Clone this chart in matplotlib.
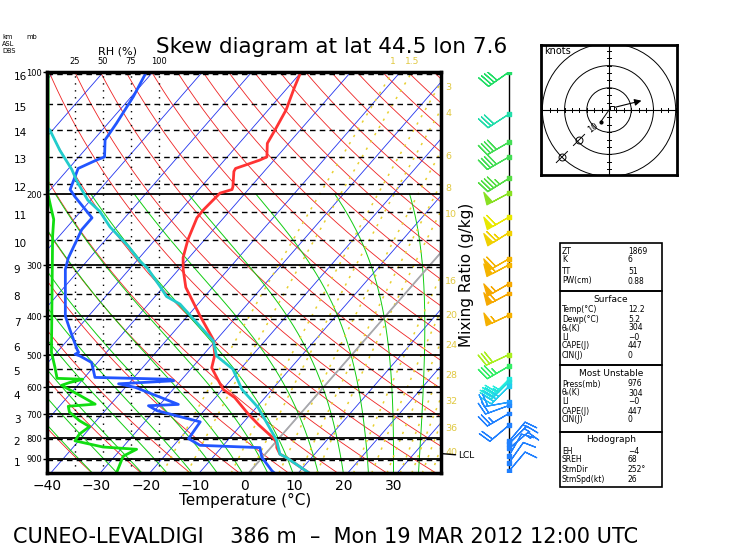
import numpy as np
import matplotlib
matplotlib.use("Agg")
import matplotlib.pyplot as plt
from matplotlib.patches import Rectangle, Circle
from matplotlib.ticker import NullLocator, NullFormatter

# ---- sounding data (pressure mb / temperature C) ----
temp_p = [100, 109, 124, 139, 150, 162, 165, 173, 176, 192, 195, 199, 219, 229, 259, 287, 307,
          340, 399, 457, 498, 537, 607, 636, 699, 741, 799, 821, 845, 877, 894, 954, 976]
temp_t = [-60.1, -58.7, -56.4, -55.1, -54.3, -52.0, -52.9, -56.3, -56.1, -53.6, -53.3, -55.1,
          -55.5, -55.4, -53.4, -51.2, -49.1, -45.4, -37.6, -30.7, -27.7, -26.0, -19.9, -16.1,
          -10.4, -6.6, -1.3, 0.3, 1.2, 3.0, 4.9, 10.3, 12.2]

dewp_p = [100, 115, 134, 147, 162, 165, 173, 195, 203, 229, 245, 288, 307, 400, 432, 483, 492,
          497, 502, 521, 567, 573, 578, 588, 600, 661, 666, 685, 730, 803, 834, 845, 893, 964, 976]
dewp_t = [-91.3, -89.6, -88.3, -87.7, -84.8, -85.9, -88.1, -86.0, -83.8, -76.6, -76.6, -74.3,
          -72.9, -64.7, -61.4, -56.5, -55.6, -56.0, -54.7, -51.2, -47.9, -32.4, -31.4, -42.0,
          -38.0, -26.3, -32.1, -29.5, -18.8, -18.2, -14.7, -2.2, -0.1, 4.3, 5.2]

parc_p = [976, 954, 894, 877, 809, 672, 607, 541, 502, 461, 374, 358, 338, 304, 293, 269, 241,
          221, 207, 186, 174, 156, 139, 137]
parc_t = [12.2, 10.3, 4.9, 3.0, -0.2, -9.7, -16.1, -21.5, -27.1, -30.4, -43.6, -47.7, -50.8,
          -56.7, -59.3, -64.3, -71.4, -76.1, -80.6, -86.1, -89.2, -95.0, -100.6, -101.7]

rh_p = [100, 201, 219, 231, 254, 482, 492, 534, 570, 573, 584, 593, 625, 660, 668, 690, 725,
        750, 782, 813, 842, 853, 887, 931, 976]
rh_v = [1, 1, 4, 6, 5, 4, 4, 7, 9, 32, 20, 13, 28, 43, 19, 20, 29, 38, 29, 25, 50, 80, 68, 65, 62]

km_levels = list(range(1, 17))
km_p = [906, 804, 707, 617, 540, 470, 408, 352, 302, 260, 222, 189, 162, 139, 120, 101]
mb_levels = [100, 200, 300, 400, 500, 600, 700, 800, 900]

wind_p = [100, 127, 149, 162, 183, 199, 228, 249, 289, 299, 333, 352, 398, 498, 532, 573, 581,
          596, 653, 665, 696, 744, 815, 827, 849, 885, 922, 966]
wind_dir = [235, 237, 240, 240, 238, 242, 240, 238, 240, 242, 240, 242, 245, 245, 240, 225, 225,
            225, 260, 250, 240, 230, 40, 45, 50, 30, 35, 40]
wind_spd = [40, 30, 40, 40, 45, 50, 60, 65, 60, 60, 55, 60, 55, 30, 35, 35, 35, 35, 20, 20, 25,
            20, 15, 15, 15, 10, 10, 10]
wind_col = ['#22dd66', '#22ddaa', '#44dd55', '#44dd55', '#55dd44', '#88e022', '#e8e800',
            '#f0d000', '#f5b400', '#f5b400', '#f5a800', '#f5a800', '#f5b000', '#aaee22',
            '#33ee66', '#22eedd', '#22dddd', '#22ccee', '#2299ff', '#2288ff', '#2080ff',
            '#2080ff', '#2080ff', '#2080ff', '#2080ff', '#2080ff', '#2080ff', '#2080ff']

mix_ratios = [1, 1.5, 3, 4, 6, 8, 10, 16, 20, 24, 28, 32, 36, 40]
temp_ticks = [-40, -30, -20, -10, 0, 10, 20, 30]
rh_ticks = [25, 50, 75, 100]

hodo_u = [1.4, 15.8]
hodo_v = [0.9, 4.5]

stats = [
    [("ZT", "1869"), ("K", "6"), ("TT", "51"), ("PW(cm)", "0.88")],
    [("Temp(°C)", "12.2"), ("Dewp(°C)", "5.2"), ("θₑ(K)", "304"), ("LI", "−0"),
     ("CAPE(J)", "447"), ("CIN(J)", "0")],
    [("Press(mb)", "976"), ("θₑ(K)", "304"), ("LI", "−0"), ("CAPE(J)", "447"), ("CIN(J)", "0")],
    [("EH", "−4"), ("SREH", "68"), ("StmDir", "252°"), ("StmSpd(kt)", "26")],
]

SKEW = 31.0
XMAX = 39.6
W, H = 746, 550


def skx(t, p):
    return np.asarray(t) + SKEW * np.log(1000.0 / np.asarray(p, dtype=float))


def rh_x(rh):
    return -40 + np.asarray(rh) * (112 / 4.95) / 100.0


def dtdp(T, p):
    es = 6.112 * np.exp(17.67 * (T - 273.15) / (T - 29.65))
    rs = 0.622 * es / (p - es)
    num = 287.04 * T + 2.501e6 * rs
    den = 1005.7 + 2.501e6 ** 2 * rs * 0.622 / (287.04 * T * T)
    return num / den / p


def moist(t0, ps):
    T = t0 + 273.15
    out = [T]
    for i in range(1, len(ps)):
        p, dp = ps[i - 1], ps[i] - ps[i - 1]
        k1 = dtdp(T, p)
        k2 = dtdp(T + k1 * dp / 2, p + dp / 2)
        T = T + k2 * dp
        out.append(T)
    return np.array(out) - 273.15


fig = plt.figure(figsize=(7.46, 5.5), dpi=100)
fig.patch.set_facecolor("white")

ax = fig.add_axes([47 / W, 1 - 473 / H, (441 - 47) / W, (473 - 72) / H])
ax.set_yscale("log")
ax.set_xlim(-40, XMAX)
ax.set_ylim(976, 100)
ax.yaxis.set_minor_locator(NullLocator())
ax.yaxis.set_minor_formatter(NullFormatter())

pp = np.exp(np.linspace(np.log(976), np.log(100), 200))

# isotherms
for t in range(-140, 50, 10):
    ax.plot(skx(t, pp), pp, color="#2233ee", lw=0.6, zorder=1)
ax.plot(skx(0, pp), pp, color="#aaaaaa", lw=1.3, zorder=2)

# dry adiabats
for th in range(-40, 210, 10):
    tk = (th + 273.15) * (pp / 1000.0) ** 0.2857 - 273.15
    ax.plot(skx(tk, pp), pp, color="#ee2222", lw=0.6, zorder=1)

# moist adiabats
pm = np.arange(1000, 199, -2.0)
for t0 in range(-30, 40, 5):
    tm = moist(t0, pm)
    ax.plot(skx(tm, pm), pm, color="#11cc11", lw=0.7, zorder=1)

# mixing ratio lines
for w in mix_ratios:
    e = w * pp / 622.0
    le = np.log(e / 6.112)
    td = 243.5 * le / (17.67 - le)
    xs = skx(td, pp)
    ax.plot(xs, pp, color="#e8d030", lw=1.1, ls=(0, (1.5, 4)), zorder=1)
    lab = f"{w:g}"
    if xs[-1] < XMAX:
        ax.annotate(lab, xy=(xs[-1], 100), xytext=(0, 4), textcoords="offset points",
                    ha="center", va="bottom", fontsize=6.5, color="#e0c840",
                    annotation_clip=False)
    else:
        i = np.argmax(xs >= XMAX)
        ax.annotate(lab, xy=(XMAX, pp[i]), xytext=(3, -4), textcoords="offset points",
                    ha="left", va="center", fontsize=6.8, color="#e0c840",
                    annotation_clip=False)

# pressure and height lines
for p in mb_levels[1:]:
    ax.axhline(p, color="black", lw=1.3, zorder=3)
for p in km_p:
    ax.axhline(p, color="black", lw=1.0, ls=(0, (4, 3)), zorder=3)
for r in rh_ticks:
    ax.axvline(rh_x(r), color="black", lw=1.0, ls=(0, (1, 4)), zorder=3)

# profiles
ax.plot(rh_x(rh_v), rh_p, color="#11dd11", lw=2.0, zorder=4)
ax.plot(skx(dewp_t, dewp_p), dewp_p, color="#2255ff", lw=2.0, zorder=5)
ax.plot(skx(temp_t, temp_p), temp_p, color="#ff3333", lw=2.0, zorder=6)
ax.plot(skx(parc_t, parc_p), parc_p, color="#22cccc", lw=2.0, zorder=7)

for s in ax.spines.values():
    s.set_linewidth(2.5)
    s.set_zorder(10)
ax.set_xticks(temp_ticks)
ax.set_xticklabels([str(t) if t >= 0 else "−" + str(-t) for t in temp_ticks], fontsize=10)
ax.tick_params(axis="x", length=0, pad=4)
ax.set_yticks(mb_levels)
ax.set_yticklabels([str(p) for p in mb_levels], fontsize=6)
ax.tick_params(axis="y", length=3, width=1, pad=0.5)

for k, p in zip(km_levels, km_p):
    ax.annotate(str(k), xy=(0, p), xycoords=("axes fraction", "data"), xytext=(-24, -2.5),
                textcoords="offset points", ha="left", va="center", fontsize=7.5)
for r in rh_ticks:
    ax.annotate(str(r), xy=(rh_x(r), 100), xytext=(0, 4), textcoords="offset points",
                ha="center", va="bottom", fontsize=6, annotation_clip=False)

# LCL marker
ax.annotate("LCL", xy=(XMAX, 874), xytext=(12.5, -1.5), textcoords="offset points", ha="left",
            va="center", fontsize=6.5, annotation_clip=False,
            arrowprops=dict(arrowstyle="-", lw=1, color="black", shrinkA=0, shrinkB=0))

# wind barbs
axb = fig.add_axes([460 / W, 1 - 473 / H, 80 / W, 401 / H])
axb.set_yscale("log")
axb.set_xlim(0, 80)
axb.set_ylim(976, 100)
axb.axis("off")
axb.plot([49, 49], [976, 100], color="black", lw=1, zorder=1)
d = np.radians(wind_dir)
u = -np.array(wind_spd) * np.sin(d)
v = -np.array(wind_spd) * np.cos(d)
xb = np.full(len(wind_p), 49.0)
axb.barbs(xb, wind_p, u, v, barbcolor=wind_col, flagcolor=wind_col, length=6,
          sizes=dict(height=0.5, spacing=0.14), lw=0.9, zorder=2)
axb.scatter(xb, wind_p, c=wind_col, marker="s", s=8, zorder=3)

# hodograph
axh = fig.add_axes([541 / W, 1 - 175 / H, 136 / W, 130 / H])
axh.set_xlim(-30.6, 30.6)
axh.set_ylim(-29.3, 29.3)
axh.set_xticks([])
axh.set_yticks([])
for s in axh.spines.values():
    s.set_linewidth(2)
for r in [10, 20, 30]:
    axh.add_patch(Circle((0, 0), r, fill=False, lw=0.7, color="black"))
axh.axhline(0, color="black", lw=0.8)
axh.axvline(0, color="black", lw=0.8)
for t in np.arange(-30, 31, 10 / 3):
    axh.plot([t, t], [-0.8, 0.8], color="black", lw=0.7)
    axh.plot([-0.8, 0.8], [t, t], color="black", lw=0.7)
axh.annotate("", xy=(hodo_u[1], hodo_v[1]), xytext=(hodo_u[0], hodo_v[0]),
             arrowprops=dict(arrowstyle="-|>", lw=0.8, color="black", mutation_scale=10))
axh.plot(hodo_u[:1], hodo_v[:1], marker="s", ms=3, mfc="white", mec="black", mew=0.7)
axh.plot([0, -3.7], [0, -5.3], color="black", lw=0.7)
axh.plot([-3.7], [-5.3], "o", ms=2, color="black")
axh.text(-7, -8, "10", fontsize=6, rotation=35, ha="center", va="center")
for mu, mv in [(-13.5, -13.5), (-21.2, -21.2)]:
    axh.plot([mu], [mv], marker="o", ms=5, mfc="none", mec="black", mew=0.7)
    axh.plot([mu - 2.5, mu + 2.5], [mv - 2.5, mv + 2.5], color="black", lw=0.7)
axh.text(-29, 26.5, "knots", fontsize=7, ha="left", va="center")

# text and table overlay
ov = fig.add_axes([0, 0, 1, 1], zorder=-1)
ov.set_xlim(0, W)
ov.set_ylim(H, 0)
ov.axis("off")

ov.text(332, 47, "Skew diagram at lat 44.5 lon 7.6", fontsize=15.5, ha="center", va="center")
ov.text(326, 537, "CUNEO-LEVALDIGI    386 m  –  Mon 19 MAR 2012 12:00 UTC", fontsize=15,
        ha="center", va="center")
ov.text(245, 500, "Temperature (°C)", fontsize=11, ha="center", va="center")
ov.text(117, 52, "RH (%)", fontsize=8, ha="center", va="center")
ov.text(2, 37, "km", fontsize=4.8, ha="left", va="center")
ov.text(26, 37, "mb", fontsize=4.8, ha="left", va="center")
ov.text(2, 44, "ASL", fontsize=4.8, ha="left", va="center")
ov.text(2, 51, "DBS", fontsize=4.8, ha="left", va="center")
ov.text(466, 275, "Mixing Ratio (g/kg)", fontsize=11, rotation=90, ha="center", va="center")

boxes = [(243, 291, None), (291, 365, "Surface"), (365, 432, "Most Unstable"),
         (432, 487, "Hodograph")]
row_y = [[251, 260, 272, 281], [310, 319, 328, 337, 346, 355], [384, 393, 402, 411, 420],
         [451, 460, 470, 479]]
for (y0, y1, head), rows, ys in zip(boxes, stats, row_y):
    ov.add_patch(Rectangle((560, y0), 102, y1 - y0, fill=False, lw=1.2, color="black"))
    if head:
        ov.text(611, y0 + 8, head, fontsize=6.5, ha="center", va="center")
    for (lab, val), yy in zip(rows, ys):
        ov.text(562, yy, lab, fontsize=5.5, ha="left", va="center")
        ov.text(628, yy, val, fontsize=5.5, ha="left", va="center")

fig.savefig("out.png", dpi=100)
